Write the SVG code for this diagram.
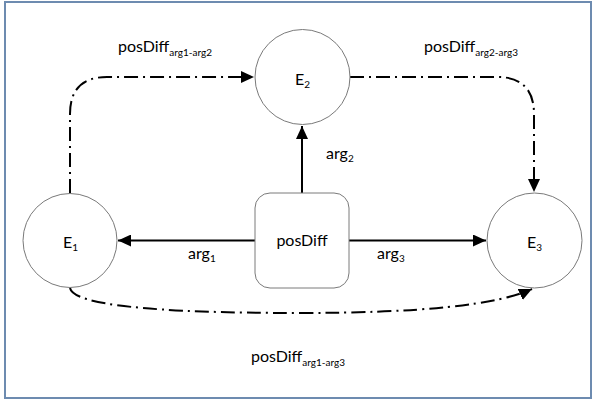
<svg xmlns="http://www.w3.org/2000/svg" width="593" height="400" viewBox="0 0 593 400">
<style>
.node{fill:#fff;stroke:#7a7a7a;stroke-width:1}
.t{font-family:Lato,"Liberation Sans",sans-serif;font-size:16px;fill:#000}
.s{font-size:10px}
.solid{fill:none;stroke:#000;stroke-width:2}
.dd{fill:none;stroke:#000;stroke-width:2;stroke-dasharray:14 5 2 5}
</style>
<defs>
<marker id="ah" markerUnits="userSpaceOnUse" markerWidth="14" markerHeight="12" refX="13" refY="6" orient="auto">
<path d="M0,0 L13,6 L0,12 Z" fill="#000"/>
</marker>
</defs>
<rect x="5" y="2" width="586" height="396" fill="#fff" stroke="#6d8bb0" stroke-width="2"/>
<g id="connectors">
<path class="solid" d="M255,240.5 H118" marker-end="url(#ah)"/>
<path class="solid" d="M349,240.5 H486" marker-end="url(#ah)"/>
<path class="solid" d="M302,193 V126" marker-end="url(#ah)"/>
<path class="dd" d="M70,193 V114 Q70,77 107,77 H254" marker-end="url(#ah)"/>
<path class="dd" d="M350,77 H497 Q534,77 534,114 V192" marker-end="url(#ah)"/>
<path class="dd" d="M70,288 Q75,313 300,313 Q480,313 532,289" marker-end="url(#ah)"/>
</g>
<g id="E1"><circle class="node" cx="70" cy="240.5" r="47"/><text class="t" x="63" y="248">E<tspan class="s" dy="3">1</tspan></text></g>
<g id="E2"><circle class="node" cx="302.5" cy="77" r="47.5"/><text class="t" x="295" y="85">E<tspan class="s" dy="3">2</tspan></text></g>
<g id="E3"><circle class="node" cx="534.5" cy="240.5" r="47.5"/><text class="t" x="527" y="248">E<tspan class="s" dy="3">3</tspan></text></g>
<g id="posDiff"><rect class="node" x="255" y="193" width="94" height="95" rx="15"/><text class="t" x="302" y="246" text-anchor="middle">posDiff</text></g>
<g id="labels">
<text class="t" x="118" y="52">posDiff<tspan class="s" dy="4">arg1-arg2</tspan></text>
<text class="t" x="424" y="52">posDiff<tspan class="s" dy="4">arg2-arg3</tspan></text>
<text class="t" x="251" y="362">posDiff<tspan class="s" dy="4">arg1-arg3</tspan></text>
<text class="t" x="326" y="159">arg<tspan class="s" dy="3">2</tspan></text>
<text class="t" x="188" y="259">arg<tspan class="s" dy="3">1</tspan></text>
<text class="t" x="377" y="259">arg<tspan class="s" dy="3">3</tspan></text>
</g>
</svg>
